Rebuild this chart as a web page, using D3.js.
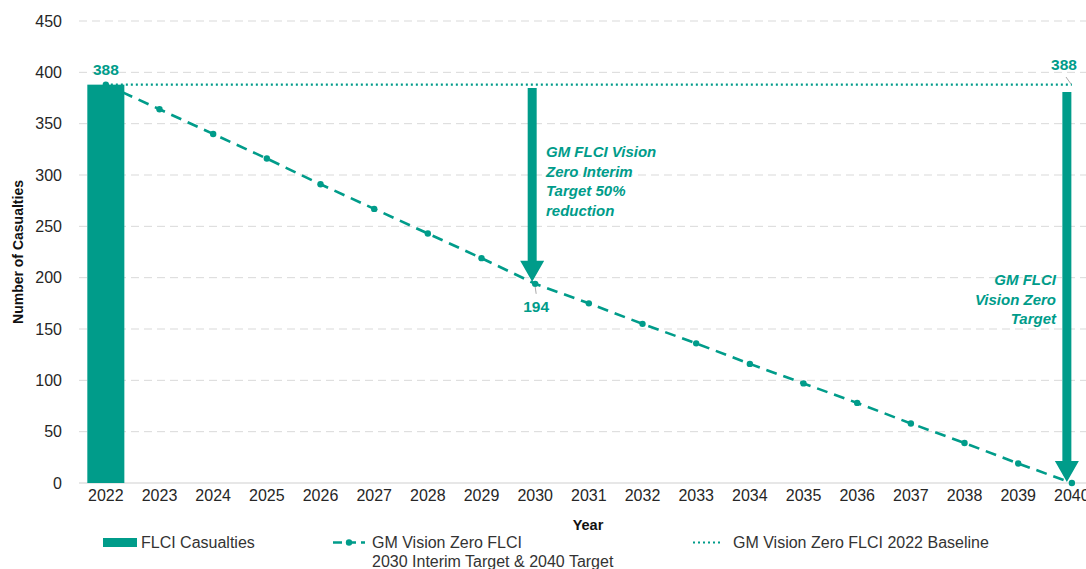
<!DOCTYPE html>
<html><head><meta charset="utf-8">
<script src="https://cdn.jsdelivr.net/npm/d3@7"></script>
<style>body{margin:0;background:#fff}svg{display:block;font-family:"Liberation Sans",Arial,sans-serif}</style>
</head><body><svg id="c" width="1086" height="569"></svg>
<script>
const years = ["2022","2023","2024","2025","2026","2027","2028","2029","2030","2031","2032","2033","2034","2035","2036","2037","2038","2039","2040"];
const casualties = [388];
const targetValues = [388,364,340,316,291,267,243,219,194,175,155,136,116,97,78,58,39,19,0];
const baselineValue = 388;
const yTicks = [0,50,100,150,200,250,300,350,400,450];
const teal = "#009C8A";

const svg = d3.select("#c");
const x = d3.scaleBand().domain(years).range([79, 1098.7]).paddingInner(0.31).paddingOuter(0.155);
const y = d3.scaleLinear().domain([0,450]).range([483,21]);
const cx = d => x(d) + x.bandwidth()/2;

// grid
svg.append("g").selectAll("line").data(yTicks.filter(t=>t>0)).join("line")
  .attr("x1",79).attr("x2",1086).attr("y1",d=>y(d)).attr("y2",d=>y(d))
  .attr("stroke","#d9d9d9").attr("stroke-dasharray","8,5").attr("stroke-width",1);
svg.append("line").attr("x1",79).attr("x2",1086).attr("y1",y(0)).attr("y2",y(0)).attr("stroke","#d0d0d0").attr("stroke-width",1.2);

// axes labels
const yAxis = d3.axisLeft(y).tickValues(yTicks).tickSize(0).tickPadding(0);
const gy = svg.append("g").attr("transform","translate(62,0)").call(yAxis);
gy.select(".domain").remove();
gy.selectAll("text").attr("font-size",16).attr("fill","#262626").attr("font-family","Liberation Sans, Arial");
const xAxis = d3.axisBottom(x).tickSize(0).tickPadding(0);
const gx = svg.append("g").attr("transform","translate(0,490)").call(xAxis);
gx.select(".domain").remove();
gx.selectAll("text").attr("font-size",16).attr("fill","#262626").attr("font-family","Liberation Sans, Arial");

// bars
svg.append("g").selectAll("rect").data(casualties).join("rect")
  .attr("x",(d,i)=>x(years[i])).attr("width",x.bandwidth())
  .attr("y",d=>y(d)).attr("height",d=>y(0)-y(d)).attr("fill",teal);

// baseline dotted
svg.append("line").attr("x1",cx("2022")).attr("x2",cx("2040")).attr("y1",y(baselineValue)).attr("y2",y(baselineValue))
  .attr("stroke",teal).attr("stroke-width",2.2).attr("stroke-dasharray","2,3");

// target dashed line
const line = d3.line().x((d,i)=>cx(years[i])).y(d=>y(d));
svg.append("path").datum(targetValues).attr("d",line).attr("fill","none").attr("stroke",teal)
  .attr("stroke-width",2.6).attr("stroke-dasharray","11,7");
svg.append("g").selectAll("circle").data(targetValues).join("circle")
  .attr("cx",(d,i)=>cx(years[i])).attr("cy",d=>y(d)).attr("r",3.2).attr("fill",teal);

// arrows
function arrow(xc, y1, y2){
  const sw = 4.5, hw = 12, hh = 21;
  const p = [[xc-sw,y1],[xc+sw,y1],[xc+sw,y2-hh],[xc+hw,y2-hh],[xc,y2],[xc-hw,y2-hh],[xc-sw,y2-hh]];
  svg.append("path").attr("d","M"+p.map(q=>q.join(",")).join("L")+"Z").attr("fill",teal);
}
arrow(cx("2030")-3, 88, y(targetValues[8])-2);
arrow(cx("2040")-5, 92, y(0)-1);

// data labels
svg.append("text").attr("x",cx("2022")).attr("y",75).attr("text-anchor","middle").attr("font-size",15.5).attr("font-weight","bold").attr("fill",teal).text(casualties[0]);
svg.append("line").attr("x1",cx("2030")).attr("x2",cx("2030")+1).attr("y1",y(194)+3).attr("y2",y(194)+10).attr("stroke","#aaa");
svg.append("text").attr("x",cx("2030")+1).attr("y",312).attr("text-anchor","middle").attr("font-size",15.5).attr("font-weight","bold").attr("fill",teal).text(targetValues[8]);
svg.append("line").attr("x1",1066).attr("x2",1071).attr("y1",77).attr("y2",84).attr("stroke","#aaa");
svg.append("text").attr("x",1064).attr("y",70).attr("text-anchor","middle").attr("font-size",15.5).attr("font-weight","bold").attr("fill",teal).text(baselineValue);

// annotations
const ann1 = ["GM FLCI Vision","Zero Interim","Target 50%","reduction"];
svg.append("g").selectAll("text").data(ann1).join("text")
  .attr("x",546).attr("y",(d,i)=>157+i*19.7).attr("font-size",15).attr("font-weight","bold").attr("font-style","italic")
  .attr("fill",teal).text(d=>d);
const ann2 = ["GM FLCI","Vision Zero","Target"];
svg.append("g").selectAll("text").data(ann2).join("text")
  .attr("x",1056).attr("y",(d,i)=>285+i*19.7).attr("text-anchor","end").attr("font-size",15).attr("font-weight","bold").attr("font-style","italic")
  .attr("fill",teal).text(d=>d);

// axis titles
svg.append("text").attr("x",588).attr("y",530).attr("text-anchor","middle").attr("font-size",14.5).attr("font-weight","bold").attr("fill","#111").text("Year");
svg.append("text").attr("transform","translate(23,252) rotate(-90)").attr("text-anchor","middle").attr("font-size",14).attr("font-weight","bold").attr("fill","#111").text("Number of Casualties");

// legend
const lg = svg.append("g").attr("font-size",16).attr("fill","#333");
lg.append("rect").attr("x",103).attr("y",538).attr("width",34).attr("height",9).attr("fill",teal);
lg.append("text").attr("x",141).attr("y",548).text("FLCI Casualties");
lg.append("line").attr("x1",333).attr("x2",365).attr("y1",542.5).attr("y2",542.5).attr("stroke",teal).attr("stroke-width",2.6).attr("stroke-dasharray","9,5");
lg.append("circle").attr("cx",349).attr("cy",542.5).attr("r",3.2).attr("fill",teal);
lg.append("text").attr("x",372).attr("y",548).text("GM Vision Zero FLCI");
lg.append("text").attr("x",372).attr("y",567).text("2030 Interim Target & 2040 Target");
lg.append("line").attr("x1",693).attr("x2",723).attr("y1",542.5).attr("y2",542.5).attr("stroke",teal).attr("stroke-width",2.2).attr("stroke-dasharray","2,3");
lg.append("text").attr("x",733).attr("y",548).text("GM Vision Zero FLCI 2022 Baseline");
</script></body></html>
